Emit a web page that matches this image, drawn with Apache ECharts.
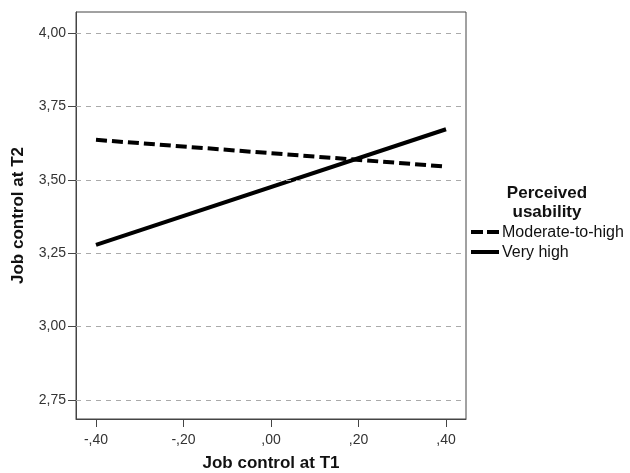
<!DOCTYPE html>
<html>
<head>
<meta charset="utf-8">
<script src="https://cdn.jsdelivr.net/npm/echarts@6/dist/echarts.min.js"></script>
<style>html,body{margin:0;padding:0;background:#fff;}#c{width:630px;height:473px;}</style>
</head>
<body>
<div id="c"></div>
<script>
const xValues = [-0.4, 0.4];
const moderateToHigh = [3.636, 3.545];
const veryHigh = [3.278, 3.672];
const yTicks = [2.75, 3.00, 3.25, 3.50, 3.75, 4.00];
const xTicks = [-0.4, -0.2, 0, 0.2, 0.4];
const seriesNames = ['Moderate-to-high', 'Very high'];
const legendTitle = 'Perceived\nusability';

const fmtY = v => v.toFixed(2).replace('.', ',');
const fmtX = v => { let s = Math.abs(v) < 1e-9 ? '0.00' : v.toFixed(2); s = s.replace('.', ',').replace(/^(-?)0,/, '$1,'); return s; };

const chart = echarts.init(document.getElementById('c'));
const FONT = 'Liberation Sans, Arial, sans-serif';
const dashPattern = [11, 5];
chart.setOption({
  animation: false,
  backgroundColor: '#fff',
  textStyle: { fontFamily: FONT },
  title: {
    text: legendTitle,
    left: 542, top: 179, textAlign: 'center',
    textStyle: { fontSize: 17, fontWeight: 'bold', color: '#111', lineHeight: 19, fontFamily: FONT }
  },
  graphic: [
    { type: 'line', shape: { x1: 471, y1: 232, x2: 499, y2: 232 }, style: { stroke: '#000', lineWidth: 4, lineDash: [12, 4] } },
    { type: 'text', left: 502, top: 225, style: { text: seriesNames[0], fontSize: 16, fill: '#111', fontFamily: FONT } },
    { type: 'line', shape: { x1: 471, y1: 252, x2: 499, y2: 252 }, style: { stroke: '#000', lineWidth: 4 } },
    { type: 'text', left: 502, top: 245, style: { text: seriesNames[1], fontSize: 16, fill: '#111', fontFamily: FONT } }
  ],
  grid: { left: 76, right: 164, top: 12, bottom: 54, show: true, borderColor: '#444', borderWidth: 1, outerBoundsMode: 'none', containLabel: false },
  xAxis: {
    type: 'value', min: -0.4457, max: 0.4457,
    name: 'Job control at T1', nameLocation: 'middle', nameGap: 36,
    nameTextStyle: { fontSize: 17, fontWeight: 'bold', color: '#111', fontFamily: FONT },
    axisLine: { show: true, onZero: false, lineStyle: { color: '#444' } },
    axisTick: { show: true, length: 8, customValues: xTicks, lineStyle: { color: '#444' } },
    axisLabel: { customValues: xTicks, formatter: fmtX, fontSize: 14, color: '#333', margin: 14, fontFamily: FONT },
    splitLine: { show: false }
  },
  yAxis: {
    type: 'value', min: 2.685, max: 4.0715,
    name: 'Job control at T2', nameLocation: 'middle', nameGap: 49, nameRotate: 90,
    nameTextStyle: { fontSize: 17, fontWeight: 'bold', color: '#111', fontFamily: FONT },
    axisLine: { show: true, onZero: false, lineStyle: { color: '#444' } },
    axisTick: { show: true, length: 8, customValues: yTicks, lineStyle: { color: '#444' } },
    axisLabel: { customValues: yTicks, formatter: fmtY, fontSize: 14, color: '#333', margin: 10, fontFamily: FONT },
    splitLine: { show: false }
  },
  series: [
    {
      name: seriesNames[0], type: 'line', symbol: 'none',
      data: xValues.map((x, i) => [x, moderateToHigh[i]]),
      lineStyle: { color: '#000', width: 4, type: dashPattern },
      itemStyle: { color: '#000' },
      markLine: {
        silent: true, symbol: 'none', label: { show: false },
        lineStyle: { color: '#aaa', width: 1, type: [5, 5] },
        data: yTicks.map(v => ({ yAxis: v }))
      },
      z: 3
    },
    {
      name: seriesNames[1], type: 'line', symbol: 'none',
      data: xValues.map((x, i) => [x, veryHigh[i]]),
      lineStyle: { color: '#000', width: 4 },
      itemStyle: { color: '#000' },
      z: 3
    }
  ]
});
</script>
</body>
</html>
